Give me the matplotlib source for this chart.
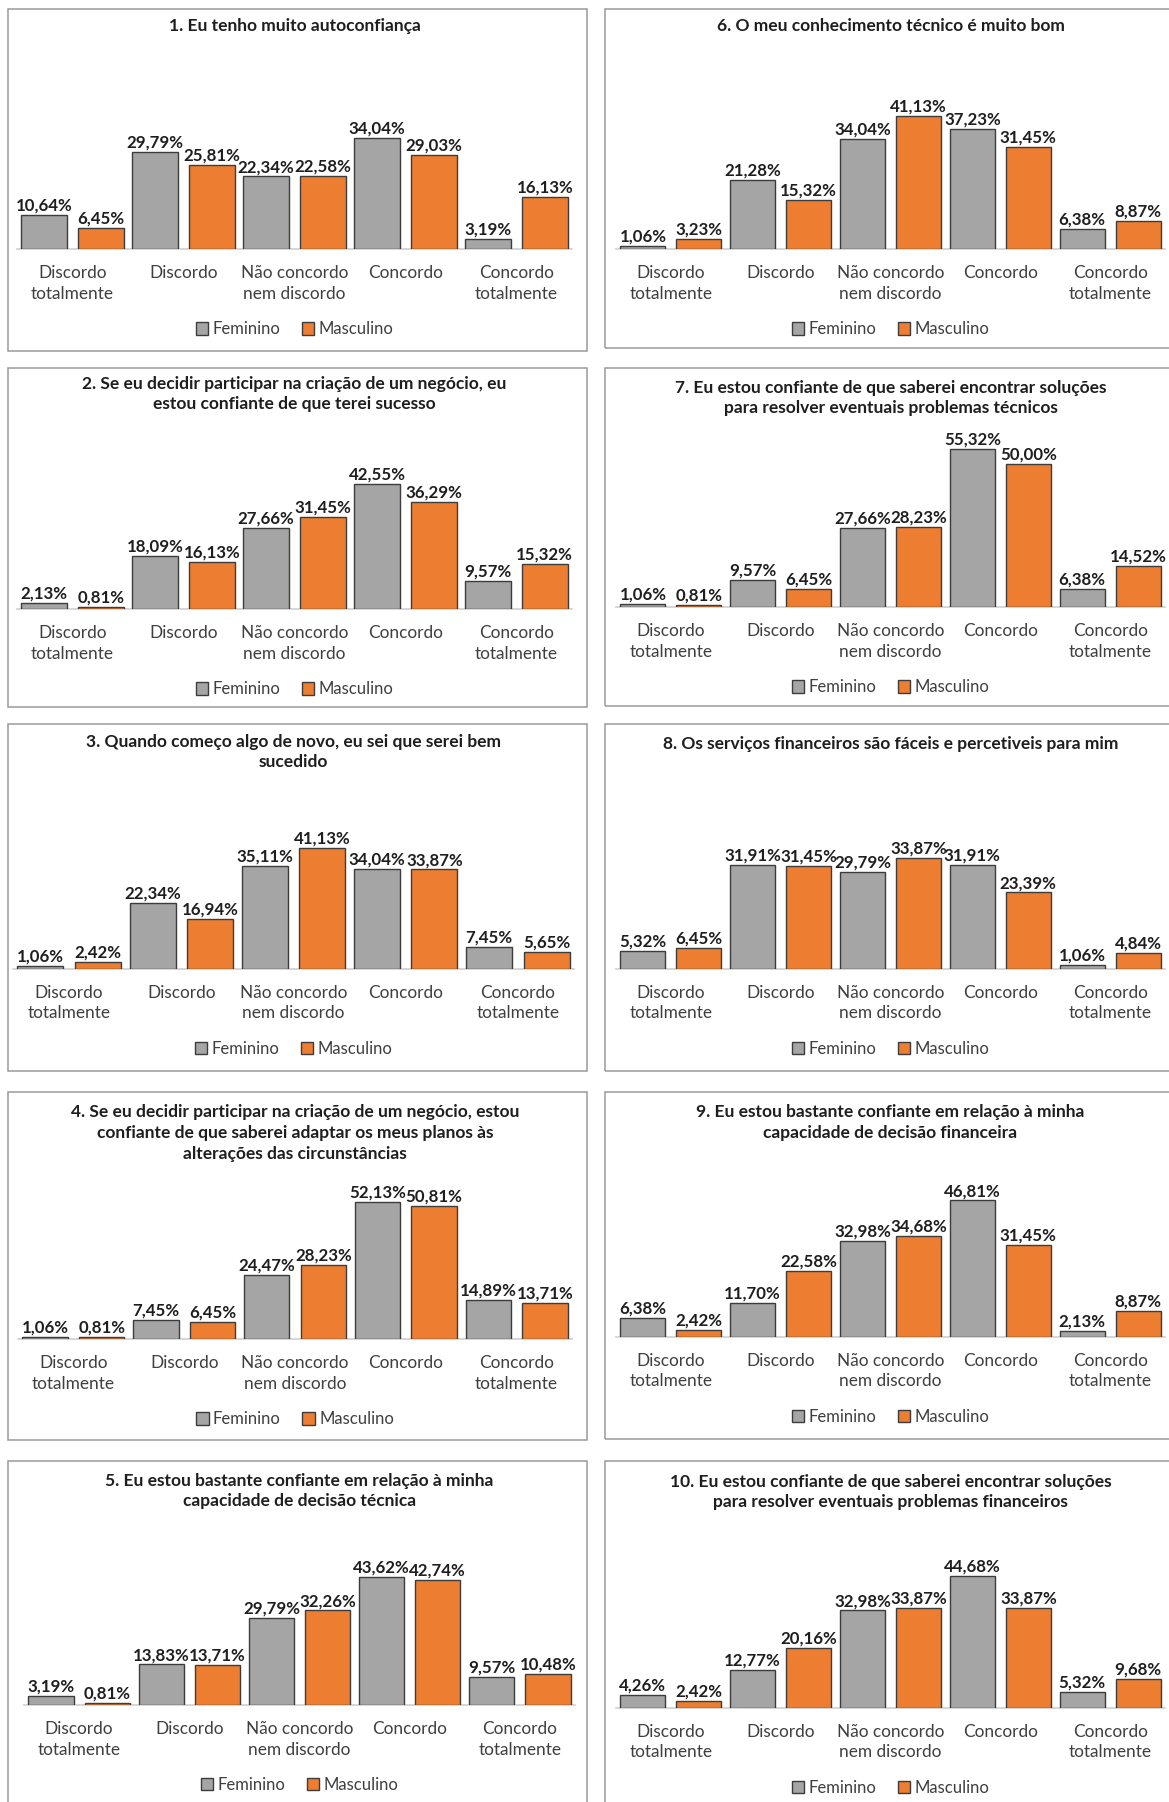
import matplotlib.pyplot as plt
from matplotlib.patches import Patch, Rectangle

plt.rcParams["font.family"] = ["Lato", "DejaVu Sans"]

W, H = 1169, 1802

categorias = [
    "Discordo\ntotalmente",
    "Discordo",
    "Não concordo\nnem discordo",
    "Concordo",
    "Concordo\ntotalmente",
]

titulos = [
    "1. Eu tenho muito autoconfiança",
    "2. Se eu decidir participar na criação de um negócio, eu\nestou confiante de que terei sucesso",
    "3. Quando começo algo de novo, eu sei que serei bem\nsucedido",
    "4. Se eu decidir participar na criação de um negócio, estou\nconfiante de que saberei adaptar os meus planos às\nalterações das circunstâncias",
    "5. Eu estou bastante confiante em relação à minha\ncapacidade de decisão técnica",
    "6. O meu conhecimento técnico é muito bom",
    "7. Eu estou confiante de que saberei encontrar soluções\npara resolver eventuais problemas técnicos",
    "8. Os serviços financeiros são fáceis e percetiveis para mim",
    "9. Eu estou bastante confiante em relação à minha\ncapacidade de decisão financeira",
    "10. Eu estou confiante de que saberei encontrar soluções\npara resolver eventuais problemas financeiros",
]

feminino = [
    [10.64, 29.79, 22.34, 34.04, 3.19],
    [2.13, 18.09, 27.66, 42.55, 9.57],
    [1.06, 22.34, 35.11, 34.04, 7.45],
    [1.06, 7.45, 24.47, 52.13, 14.89],
    [3.19, 13.83, 29.79, 43.62, 9.57],
    [1.06, 21.28, 34.04, 37.23, 6.38],
    [1.06, 9.57, 27.66, 55.32, 6.38],
    [5.32, 31.91, 29.79, 31.91, 1.06],
    [6.38, 11.70, 32.98, 46.81, 2.13],
    [4.26, 12.77, 32.98, 44.68, 5.32],
]

masculino = [
    [6.45, 25.81, 22.58, 29.03, 16.13],
    [0.81, 16.13, 31.45, 36.29, 15.32],
    [2.42, 16.94, 41.13, 33.87, 5.65],
    [0.81, 6.45, 28.23, 50.81, 13.71],
    [0.81, 13.71, 32.26, 42.74, 10.48],
    [3.23, 15.32, 41.13, 31.45, 8.87],
    [0.81, 6.45, 28.23, 50.00, 14.52],
    [6.45, 31.45, 33.87, 23.39, 4.84],
    [2.42, 22.58, 34.68, 31.45, 8.87],
    [2.42, 20.16, 33.87, 33.87, 9.68],
]

CINZA = "#a5a5a5"
LARANJA = "#ed7d31"
BORDA = "#3c3c3c"
TEXTO = "#3f3f3f"

# panel geometry in pixels: frame box, plot x-range, baseline y, px per %, title y
paineis = [
    dict(frame=(8, 9, 587, 351), ax=(17, 572), base=249.3, ppp=3.26, ty=26),
    dict(frame=(8, 368, 587, 707), ax=(17, 572), base=609.3, ppp=2.95, ty=394),
    dict(frame=(8, 724, 587, 1071), ax=(13, 574), base=968.7, ppp=2.93, ty=752),
    dict(frame=(8, 1092, 587, 1440), ax=(18, 572), base=1339.3, ppp=2.63, ty=1133),
    dict(frame=(8, 1461, 587, 1815), ax=(24, 575), base=1705.0, ppp=2.93, ty=1491),
    dict(frame=(605, 9, 1180, 348), ax=(616, 1165), base=249.3, ppp=3.24, ty=26),
    dict(frame=(605, 368, 1180, 706), ax=(616, 1165), base=607.3, ppp=2.86, ty=398),
    dict(frame=(605, 724, 1180, 1071), ax=(616, 1165), base=968.7, ppp=3.26, ty=744),
    dict(frame=(605, 1092, 1180, 1439), ax=(616, 1165), base=1336.7, ppp=2.91, ty=1122.5),
    dict(frame=(605, 1461, 1180, 1815), ax=(616, 1165), base=1707.7, ppp=2.95, ty=1492),
]

AX_H = 170  # plot area height in px
BW = 0.41
OFF = 0.255


def fmt(v):
    return f"{v:.2f}%".replace(".", ",")


fig = plt.figure(figsize=(W / 100, H / 100), dpi=100)
fig.patch.set_facecolor("white")

for titulo, fem, mas, p in zip(titulos, feminino, masculino, paineis):
    x0, y0, x1, y1 = p["frame"]
    fig.add_artist(Rectangle((x0 / W, 1 - y1 / H), (x1 - x0) / W, (y1 - y0) / H,
                             transform=fig.transFigure, fill=False,
                             edgecolor="#9a9a9a", linewidth=1.1))

    a0, a1 = p["ax"]
    base = p["base"]
    ax = fig.add_axes([a0 / W, 1 - base / H, (a1 - a0) / W, AX_H / H])
    ax.set_xlim(-0.5, 4.5)
    ax.set_ylim(0, AX_H / p["ppp"])
    ax.patch.set_alpha(0)

    xs = range(len(categorias))
    ax.bar([x - OFF for x in xs], fem, width=BW, color=CINZA,
           edgecolor=BORDA, linewidth=1.0, zorder=3)
    ax.bar([x + OFF for x in xs], mas, width=BW, color=LARANJA,
           edgecolor=BORDA, linewidth=1.0, zorder=3)

    for x, v in zip(xs, fem):
        ax.annotate(fmt(v), (x - OFF, v), xytext=(0, 1), textcoords="offset points",
                    ha="center", va="bottom", fontsize=12.2, fontweight="bold", color="#1e1e1e")
    for x, v in zip(xs, mas):
        ax.annotate(fmt(v), (x + OFF, v), xytext=(0, 1), textcoords="offset points",
                    ha="center", va="bottom", fontsize=12.2, fontweight="bold", color="#1e1e1e")

    for s in ("top", "left", "right"):
        ax.spines[s].set_visible(False)
    ax.spines["bottom"].set_color("#d0d0d0")
    ax.spines["bottom"].set_linewidth(1.2)
    ax.set_yticks([])
    ax.set_xticks(list(xs), categorias)
    ax.tick_params(axis="x", length=0, pad=11.5, labelsize=12.4, labelcolor=TEXTO)
    for lab in ax.get_xticklabels():
        lab.set_linespacing(1.35)

    cx = (a0 + a1) / 2
    fig.text(cx / W, 1 - p["ty"] / H, titulo, ha="center", va="center",
             fontsize=12.5, fontweight="bold", color="#1e1e1e", linespacing=1.35)

    handles = [Patch(facecolor=CINZA, edgecolor=BORDA, linewidth=1.0),
               Patch(facecolor=LARANJA, edgecolor=BORDA, linewidth=1.0)]
    ax.legend(handles, ["Feminino", "Masculino"], loc="center",
              bbox_to_anchor=(cx / W, 1 - (base + 80) / H), bbox_transform=fig.transFigure,
              ncol=2, frameon=False, fontsize=12, handlelength=0.75, handleheight=0.75,
              handletextpad=0.25, columnspacing=1.3, borderpad=0, labelcolor=TEXTO)

fig.savefig("out.png", dpi=100)
